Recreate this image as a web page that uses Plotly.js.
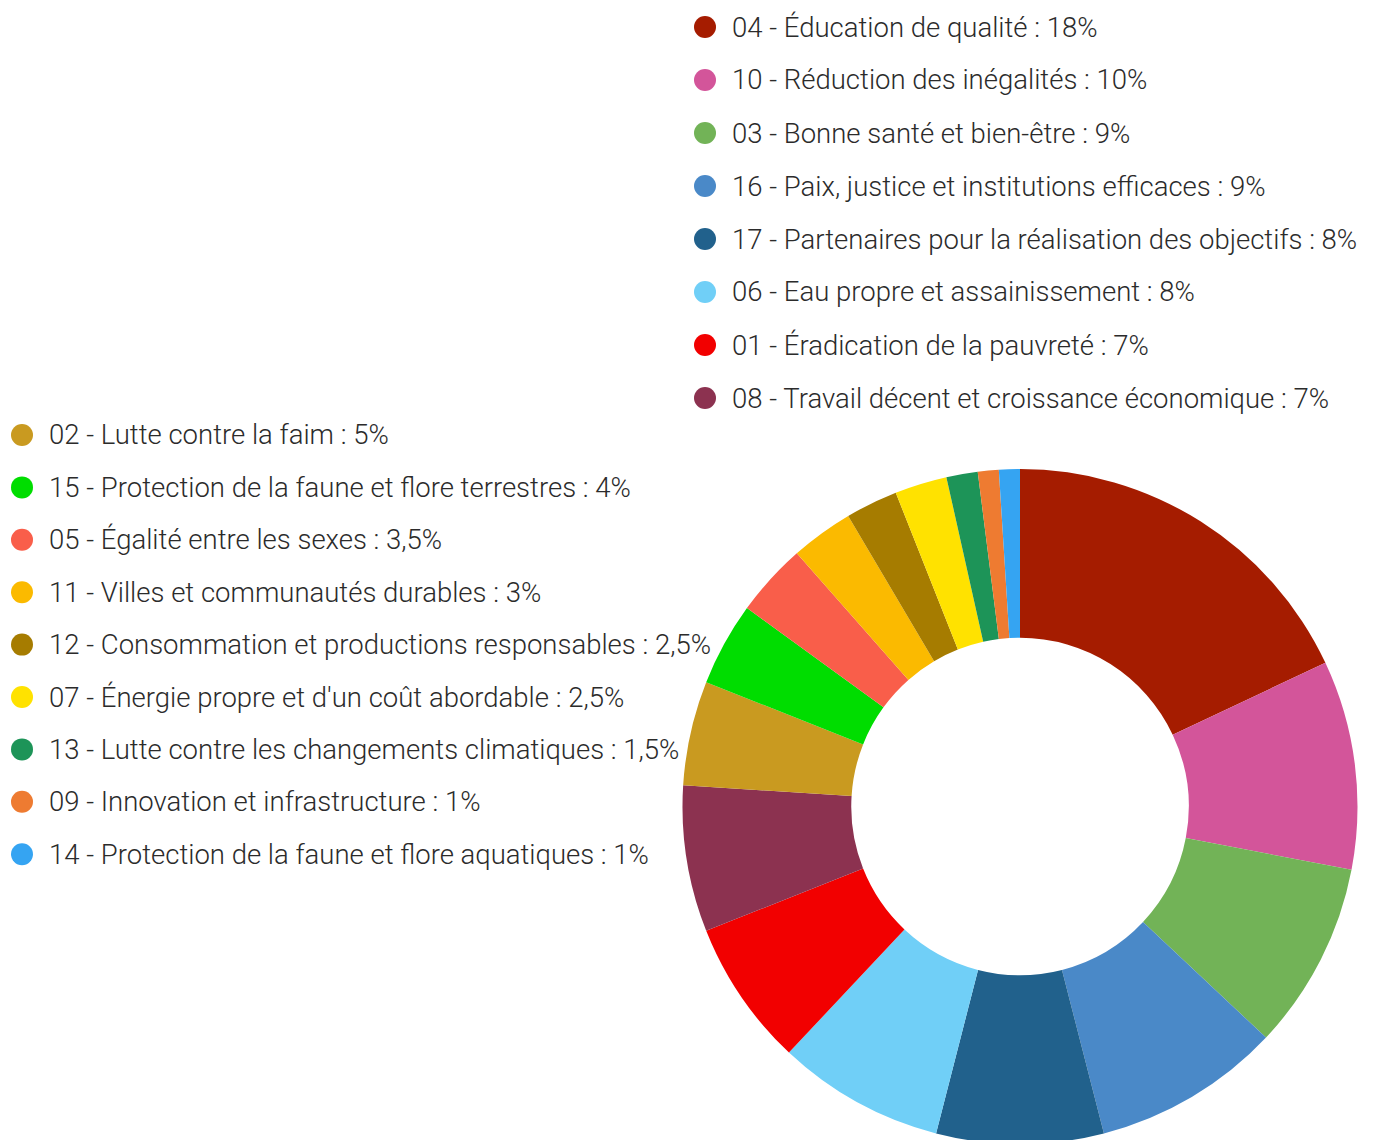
<!DOCTYPE html>
<html>
<head>
<meta charset="utf-8">
<script src="https://cdn.plot.ly/plotly-3.0.1.min.js"></script>
<style>
  html, body { margin: 0; padding: 0; overflow: hidden; background: #fff; }
</style>
</head>
<body>
<div id="chart"></div>
<script>
// Objectifs de développement durable : part de chaque objectif
var codes = ['04', '10', '03', '16', '17', '06', '01', '08', '02',
             '15', '05', '11', '12', '07', '13', '09', '14'];
var labels = ['Éducation de qualité', 'Réduction des inégalités', 'Bonne santé et bien-être',
              'Paix, justice et institutions efficaces', 'Partenaires pour la réalisation des objectifs',
              'Eau propre et assainissement', 'Éradication de la pauvreté',
              'Travail décent et croissance économique', 'Lutte contre la faim',
              'Protection de la faune et flore terrestres', 'Égalité entre les sexes',
              'Villes et communautés durables', 'Consommation et productions responsables',
              'Énergie propre et d\'un coût abordable', 'Lutte contre les changements climatiques',
              'Innovation et infrastructure', 'Protection de la faune et flore aquatiques'];
var values = [18, 10, 9, 9, 8, 8, 7, 7, 5, 4, 3.5, 3, 2.5, 2.5, 1.5, 1, 1];
var colors = ['#a51c00', '#d3559a', '#72b357', '#4a89c8', '#21618c', '#70cff7', '#f20000',
              '#8c3250', '#c99a20', '#00dd00', '#f95e4a', '#fbba00', '#a67c00', '#ffe200',
              '#1d9458', '#ee7b31', '#35a4f2'];

var W = 1373, H = 1144;
function px(x) { return x / W; }
function py(y) { return 1 - y / H; }

var trace = {
  type: 'pie',
  values: values,
  labels: codes.map(function (c, i) { return c + ' - ' + labels[i]; }),
  marker: { colors: colors, line: { width: 0 } },
  hole: 0.5,
  sort: false,
  direction: 'clockwise',
  rotation: 0,
  textinfo: 'none',
  hoverinfo: 'label+percent',
  showlegend: false,
  domain: { x: [px(682.5), px(1357.5)], y: [0, 675 / H] }
};

// legende en deux colonnes
var annotations = [];
var shapes = [];
for (var i = 0; i < values.length; i++) {
  var cx, ty, tx;
  if (i < 8) { cx = 705; tx = 730; ty = 27 + i * 53; }
  else { cx = 22; tx = 47; ty = 435 + (i - 8) * 52.4; }
  var pct = String(values[i]).replace('.', ',') + '%';
  annotations.push({
    xref: 'paper', yref: 'paper', x: px(tx), y: py(ty),
    xanchor: 'left', yanchor: 'middle', showarrow: false,
    text: codes[i] + ' - ' + labels[i] + ' : ' + pct,
    font: { family: 'Roboto', size: 27.5, weight: 300, color: '#2b2b2b' }
  });
  shapes.push({
    type: 'circle', xref: 'paper', yref: 'paper',
    x0: px(cx - 11), x1: px(cx + 11), y0: py(ty - 11), y1: py(ty + 11),
    fillcolor: colors[i], line: { width: 0 }
  });
}

var layout = {
  width: W,
  height: H,
  margin: { l: 0, r: 0, t: 0, b: 0 },
  paper_bgcolor: '#ffffff',
  annotations: annotations,
  shapes: shapes
};

Plotly.newPlot('chart', [trace], layout, { displayModeBar: false });
</script>
</body>
</html>
